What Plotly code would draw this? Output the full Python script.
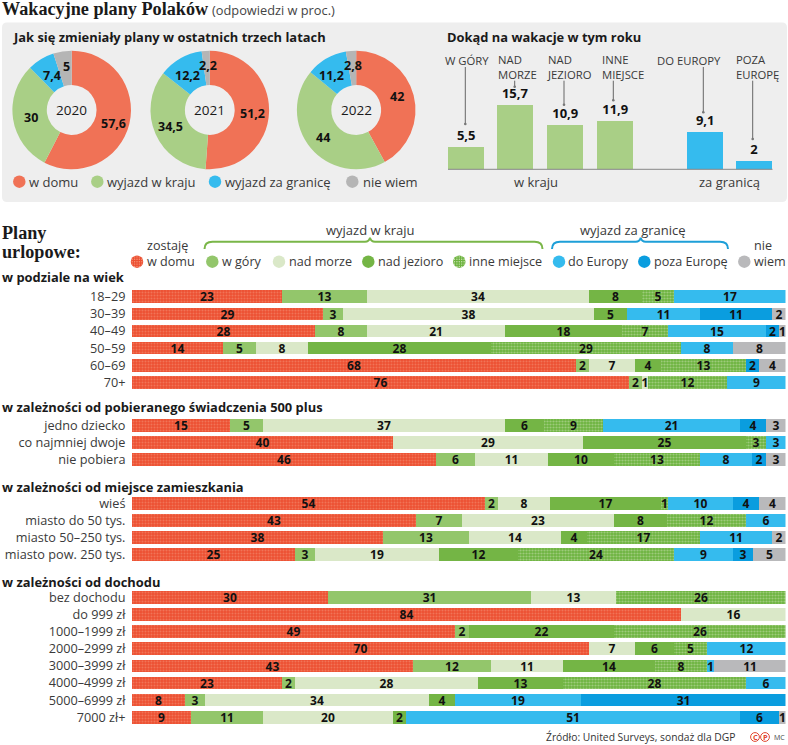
import plotly.graph_objects as go

# ---------- data ----------
donut_years = ["2020", "2021", "2022"]
donut_cats = ["w domu", "wyjazd w kraju", "wyjazd za granicę", "nie wiem"]
donut_2020 = [57.6, 30, 7.4, 5]
donut_2021 = [51.2, 34.5, 12.2, 2.2]
donut_2022 = [42, 44, 11.2, 2.8]

dest_home_cats = ["W GÓRY", "NAD MORZE", "NAD JEZIORO", "INNE MIEJSCE"]
dest_home_vals = [5.5, 15.7, 10.9, 11.9]
dest_abroad_cats = ["DO EUROPY", "POZA EUROPĘ"]
dest_abroad_vals = [9.1, 2]

rows_age = ["18–29", "30–39", "40–49", "50–59", "60–69", "70+"]
rows_500 = ["jedno dziecko", "co najmniej dwoje", "nie pobiera"]
rows_place = ["wieś", "miasto do 50 tys.", "miasto 50–250 tys.", "miasto pow. 250 tys."]
rows_income = ["bez dochodu", "do 999 zł", "1000–1999 zł", "2000–2999 zł", "3000–3999 zł",
               "4000–4999 zł", "5000–6999 zł", "7000 zł+"]

w_domu      = [23,29,28,14,68,76, 15,40,46, 54,43,38,25, 30,84,49,70,43,23,8,9]
w_gory      = [13,3,8,5,2,2, 5,0,6, 2,7,13,3, 31,0,2,0,12,2,3,11]
nad_morze   = [34,38,21,8,7,1, 37,29,11, 8,23,14,19, 13,16,0,7,11,28,34,20]
nad_jezioro = [8,5,18,28,4,0, 6,25,10, 17,8,4,12, 0,0,22,6,14,13,4,2]
inne        = [5,0,7,29,13,12, 9,3,13, 1,12,17,24, 26,0,26,5,8,28,0,0]
do_europy   = [17,11,15,8,0,9, 21,3,8, 10,6,11,9, 0,0,0,12,1,6,19,51]
poza_europe = [0,11,2,0,2,0, 4,0,2, 4,0,0,3, 0,0,0,0,0,0,31,6]
nie_wiem    = [0,2,1,8,4,0, 3,0,3, 4,0,2,5, 0,0,0,0,11,0,0,1]

# ---------- style ----------
W, H = 788, 745
SANS = "Open Sans"
SERIF = "Liberation Serif"
INK = "#1a1a1a"
TXT = "#3a3a3a"
C_RED, C_GOR, C_MOR, C_JEZ, C_INN, C_EU, C_POZ, C_NW = (
    "#EC5032", "#93C66B", "#DAE8C8", "#74B545", "#6DB33F", "#35BBEE", "#0A9DDF", "#B9B9BB")
DOT_RED, DOT_INN = "#F5977C", "#CDE4B7"
D_COLORS = ["#F07256", "#A9CF86", "#35BBEE", "#B5B5B5"]

fig = go.Figure()
shapes, notes = [], []


def txt(x, y, s, size=13, color=TXT, bold=False, anchor="left", family=SANS):
    notes.append(dict(x=x, y=y, xref="x4", yref="y", text=f"<b>{s}</b>" if bold else s,
                      showarrow=False, xanchor=anchor, yanchor="middle", align=anchor,
                      font=dict(size=size, color=color, family=family),
                      borderpad=0, borderwidth=0))


def line(x0, y0, x1, y1, color="#666", width=1):
    shapes.append(dict(type="line", xref="x4", yref="y", x0=x0, y0=y0, x1=x1, y1=y1,
                       line=dict(color=color, width=width), layer="above"))


# ---------- panel ----------
def nx(v):
    return v / W


def ny(v):
    return 1 - v / H


x0, x1, y0, y1, r = 2, 787, 22.5, 202, 5
shapes.append(dict(type="path", xref="paper", yref="paper", layer="below", fillcolor="#EEEEEE", line=dict(width=0),
                   path=f"M{nx(x0+r)},{ny(y0)} L{nx(x1-r)},{ny(y0)} Q{nx(x1)},{ny(y0)} {nx(x1)},{ny(y0+r)} "
                        f"L{nx(x1)},{ny(y1-r)} Q{nx(x1)},{ny(y1)} {nx(x1-r)},{ny(y1)} "
                        f"L{nx(x0+r)},{ny(y1)} Q{nx(x0)},{ny(y1)} {nx(x0)},{ny(y1-r)} "
                        f"L{nx(x0)},{ny(y0+r)} Q{nx(x0)},{ny(y0)} {nx(x0+r)},{ny(y0)} Z"))

# ---------- donuts ----------
R, CY = 59.3, 110
for year, vals, cx in zip(donut_years, [donut_2020, donut_2021, donut_2022], [71.7, 209.8, 356.2]):
    fig.add_trace(go.Pie(labels=donut_cats, values=vals, sort=False, direction="clockwise", rotation=0,
                         hole=0.42, textinfo="none", showlegend=False, hoverinfo="label+value",
                         marker=dict(colors=D_COLORS, line=dict(width=0)),
                         domain=dict(x=[(cx - R) / W, (cx + R) / W], y=[1 - (CY + R) / H, 1 - (CY - R) / H])))
    txt(cx, CY, year, 13.5, INK, anchor="center")


def fmt(v):
    return str(v).replace(".", ",")


donut_label_xy = [
    [(113, 123), (31, 117.5), (51.5, 75), (66, 66.5)],
    [(252, 113), (170.5, 126), (187.5, 75), (208, 65)],
    [(397, 96), (323, 137), (331, 75), (353, 65)],
]
for vals, xys in zip([donut_2020, donut_2021, donut_2022], donut_label_xy):
    for v, (x, y) in zip(vals, xys):
        txt(x, y, fmt(v), 12.5, "#111", True, "center")

# ---------- destination bars ----------
BASE, UNIT = 169.3, 4.1
dom_y = [1 - BASE / H, 1 - (BASE - 16 * UNIT) / H]
SLOT = 49.6
fig.add_trace(go.Bar(x=dest_home_cats, y=dest_home_vals, xaxis="x2", yaxis="y2", width=0.726,
                     marker=dict(color=D_COLORS[1], line=dict(width=0)), showlegend=False,
                     text=[fmt(v) for v in dest_home_vals], textposition="outside", cliponaxis=False,
                     constraintext="none",
                     textfont=dict(size=13, color="#111", family=SANS, weight="bold")))
fig.add_trace(go.Bar(x=dest_abroad_cats, y=dest_abroad_vals, xaxis="x3", yaxis="y2", width=0.726,
                     marker=dict(color=D_COLORS[2], line=dict(width=0)), showlegend=False,
                     text=[fmt(v) for v in dest_abroad_vals], textposition="outside", cliponaxis=False,
                     constraintext="none",
                     textfont=dict(size=13, color="#111", family=SANS, weight="bold")))
line(448, BASE, 772.5, BASE, "#888", 1)
leaders = [(465.3, 67, 124), (514.7, 80.7, 86.7), (564, 80.7, 104.7), (613.3, 80.7, 100.3),
           (703.3, 67, 112.3), (752.7, 80.7, 139)]
for x, a, b in leaders:
    line(x, a, x, b, "#666", 1)
    shapes.append(dict(type="circle", xref="x4", yref="y", x0=x - 1.3, x1=x + 1.3, y0=b - 1.3, y1=b + 1.3,
                       fillcolor="#777", line=dict(width=0), layer="above"))
for x, a, b in [(445, "W GÓRY", None), (498, "NAD", "MORZE"), (547.3, "NAD", "JEZIORO"),
                (602, "INNE", "MIEJSCE"), (657.3, "DO EUROPY", None), (736, "POZA", "EUROPĘ")]:
    if b:
        txt(x, 66.6, f"{a}<br>{b}", 11.3, TXT)
    else:
        txt(x, 60, a, 11.3, TXT)
txt(535.7, 182.3, "w kraju", 13, TXT, anchor="center")
txt(729, 182.3, "za granicą", 13, TXT, anchor="center")

# ---------- stacked bars ----------
row_labels = rows_age + rows_500 + rows_place + rows_income
row_y = ([296.7 + 17.13 * i for i in range(6)] + [425.7 + 17 * i for i in range(3)]
         + [503.3 + 17 * i for i in range(4)] + [597.3 + 17.14 * i for i in range(8)])
series = [
    ("w domu", w_domu, C_RED, DOT_RED, 0.36),
    ("w górach", w_gory, C_GOR, None, 0),
    ("nad morzem", nad_morze, C_MOR, None, 0),
    ("nad jeziorem", nad_jezioro, C_JEZ, None, 0),
    ("inne miejsce", inne, C_INN, DOT_INN, 0.42),
    ("do Europy", do_europy, C_EU, None, 0),
    ("poza Europę", poza_europe, C_POZ, None, 0),
    ("nie wiem", nie_wiem, C_NW, None, 0),
]
# every row fills the full width, even when its rounded answers add up to 99
row_sum = [sum(s[1][i] for s in series) for i in range(len(row_y))]
for name, vals, col, dot, sol in series:
    marker = dict(color=col, line=dict(width=0))
    if dot:
        marker["pattern"] = dict(shape=".", fgcolor=dot, bgcolor=col, size=3, solidity=sol)
    fig.add_trace(go.Bar(name=name, x=[100 * v / t for v, t in zip(vals, row_sum)], y=row_y, orientation="h",
                         width=12.6, marker=marker, showlegend=False, text=[str(v) if v else "" for v in vals],
                         textposition="inside", insidetextanchor="middle", constraintext="none", textangle=0,
                         textfont=dict(size=12, color="#111", family=SANS, weight="bold")))

# ---------- legends ----------
legend_top = [(19.3, 181.7, D_COLORS[0]), (97.3, 181.7, D_COLORS[1]), (215, 181.7, D_COLORS[2]), (352.3, 181.7, D_COLORS[3])]
legend_bars = [(137, 261.7, C_RED), (212.3, 261.7, C_GOR), (279, 261.7, C_MOR), (368.3, 261.7, C_JEZ),
               (459.3, 261.7, C_INN), (559, 261.7, C_EU), (644.3, 261.7, C_POZ), (744.3, 261.7, C_NW)]
all_dots = legend_top + legend_bars
fig.add_trace(go.Scatter(x=[d[0] for d in all_dots], y=[d[1] for d in all_dots], xaxis="x4", yaxis="y",
                         mode="markers", showlegend=False, hoverinfo="skip",
                         marker=dict(size=12.5, color=[d[2] for d in all_dots], line=dict(width=0))))
# dotted texture on the two patterned legend circles
px, py, pc = [], [], []
for cx, cy, dot in [(137, 261.7, DOT_RED), (459.3, 261.7, DOT_INN)]:
    for i in range(-2, 3):
        for j in range(-2, 3):
            if (i * 2.4) ** 2 + (j * 2.4) ** 2 <= 30:
                px.append(cx + i * 2.4); py.append(cy + j * 2.4); pc.append(dot)
fig.add_trace(go.Scatter(x=px, y=py, xaxis="x4", yaxis="y", mode="markers", showlegend=False, hoverinfo="skip",
                         marker=dict(size=1.4, color=pc, line=dict(width=0))))

for x, s in [(29.3, "w domu"), (107.3, "wyjazd w kraju"), (225, "wyjazd za granicę"), (362.7, "nie wiem")]:
    txt(x, 181.7, s, 13, TXT)
for x, s in [(146.7, "w domu"), (221.7, "w góry"), (288.7, "nad morze"), (377.7, "nad jezioro"),
             (469, "inne miejsce"), (568.3, "do Europy"), (654.3, "poza Europę"), (754, "wiem")]:
    txt(x, 261.7, s, 12.6, TXT)
txt(167.7, 245.7, "zostaję", 12.6, TXT, anchor="center")
txt(762.7, 245.7, "nie", 12.6, TXT, anchor="center")
txt(370, 229.5, "wyjazd w kraju", 13, TXT, anchor="center")
txt(633, 229.5, "wyjazd za granicę", 13, TXT, anchor="center")


def brace(xa, xb, xc, col):
    t, m, pk = 249, 241.7, 237.7
    shapes.append(dict(type="path", xref="x4", yref="y", layer="above", line=dict(color=col, width=2),
                       path=f"M{xa},{t} Q{xa},{m} {xa+8},{m} L{xc-5},{m} Q{xc-1},{m} {xc},{pk} "
                            f"Q{xc+1},{m} {xc+5},{m} L{xb-8},{m} Q{xb},{m} {xb},{t}"))


brace(204.5, 542.5, 370, "#7AB648")
brace(552, 728, 640.7, "#1E9FD8")

# ---------- titles ----------
txt(1.5, 9, "Wakacyjne plany Polaków", 18.2, INK, True, family=SERIF)
txt(212, 9.5, "(odpowiedzi w proc.)", 12.8, "#444")
txt(13, 37, "Jak się zmieniały plany w ostatnich trzech latach", 12.9, INK, True)
txt(447, 37, "Dokąd na wakacje w tym roku", 12.9, INK, True)
txt(1.5, 233, "Plany", 18.2, INK, True, family=SERIF)
txt(1.5, 251.7, "urlopowe:", 18.2, INK, True, family=SERIF)
txt(1.5, 277, "w podziale na wiek", 12.9, INK, True)
txt(1.5, 407, "w zależności od pobieranego świadczenia 500 plus", 12.9, INK, True)
txt(1.5, 486.7, "w zależności od miejsce zamieszkania", 12.9, INK, True)
txt(1.5, 581.7, "w zależności od dochodu", 12.9, INK, True)
txt(735.7, 737, "Źródło: United Surveys, sondaż dla DGP", 10.3, "#333", anchor="right")
for x, s in [(755, "C"), (765, "P")]:
    shapes.append(dict(type="circle", xref="x4", yref="y", x0=x - 4.4, x1=x + 4.4, y0=737 - 4.4, y1=737 + 4.4,
                       line=dict(color="#E2472F", width=1), fillcolor="rgba(0,0,0,0)", layer="above"))
    txt(x, 737, s, 7.5, "#E2472F", True, "center")
txt(779, 737, "MC", 7, "#444", anchor="center")

# ---------- layout ----------
fig.update_layout(
    width=W, height=H, margin=dict(l=0, r=0, t=0, b=0, pad=0, autoexpand=False),
    paper_bgcolor="white", plot_bgcolor="rgba(0,0,0,0)", barmode="stack", bargap=0,
    font=dict(family=SANS, color=TXT), showlegend=False, shapes=shapes, annotations=notes,
    xaxis=dict(domain=[132 / W, 785.5 / W], range=[0, 100], visible=False, anchor="y", fixedrange=True),
    yaxis=dict(domain=[0, 1], range=[H, 0], anchor="x", tickmode="array", tickvals=row_y, ticktext=row_labels,
               showgrid=False, zeroline=False, showline=False, ticks="outside", ticklen=3, tickwidth=0,
               tickcolor="rgba(0,0,0,0)", tickfont=dict(size=12.7, color=TXT, family=SANS), fixedrange=True),
    xaxis2=dict(domain=[(466 - SLOT / 2) / W, (466 + 3.5 * SLOT) / W], type="category", range=[-0.5, 3.5],
                anchor="y2", visible=False, fixedrange=True),
    xaxis3=dict(domain=[(705 - SLOT / 2) / W, (705 + 1.5 * SLOT) / W], type="category", range=[-0.5, 1.5],
                anchor="y2", visible=False, fixedrange=True),
    yaxis2=dict(domain=dom_y, range=[0, 16], anchor="x2", visible=False, fixedrange=True),
    xaxis4=dict(domain=[0, 1], range=[0, W], anchor="y", visible=False, fixedrange=True),
)
fig.write_html("out.html", config=dict(displayModeBar=False),
               post_script="document.body.style.margin='0';document.documentElement.style.overflow='hidden';")
